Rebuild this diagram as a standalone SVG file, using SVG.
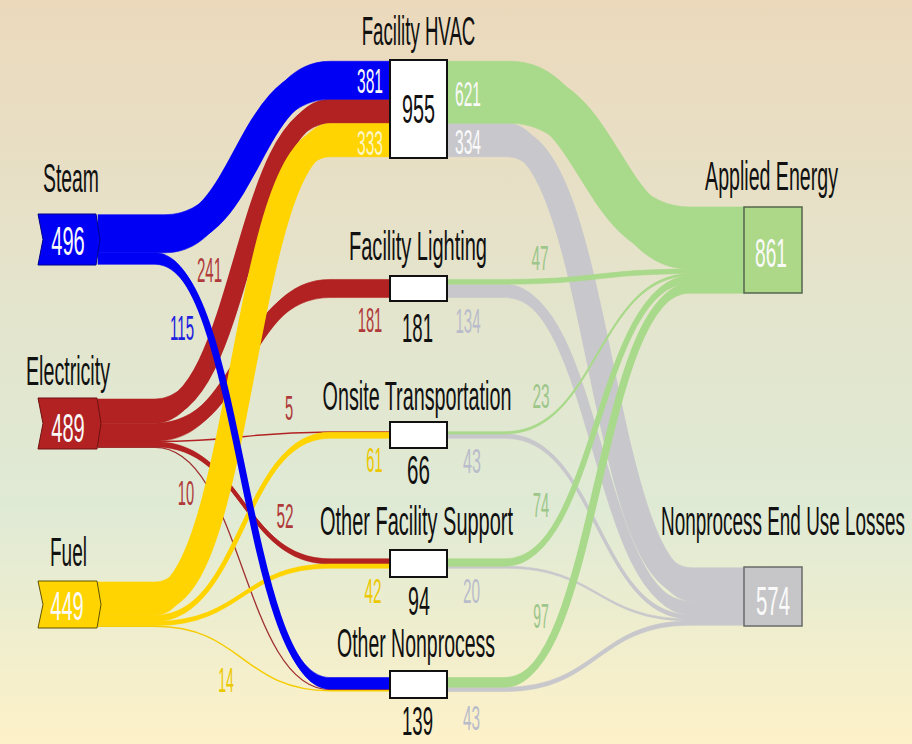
<svg xmlns="http://www.w3.org/2000/svg" width="912" height="744" viewBox="0 0 912 744">
<defs>
<linearGradient id="bg" x1="0" y1="0" x2="0" y2="1">
<stop offset="0" stop-color="#ecd9bc"/>
<stop offset="0.4" stop-color="#e4e4cc"/>
<stop offset="0.68" stop-color="#dfead5"/>
<stop offset="1" stop-color="#fdf1c8"/>
</linearGradient>
<style>
.a{stroke-width:0.6}
.b{fill:#0000f5;stroke:#0000f5}
.r{fill:#b22222;stroke:#b22222}
.y{fill:#ffd400;stroke:#ffd400}
.g{fill:#a9d98a;stroke:#a9d98a}
.s{fill:#c8c8cc;stroke:#c8c8cc}
.c{fill:none}
.ln{fill:none}
text{font-family:"Liberation Sans",Arial,sans-serif;text-anchor:middle}
.n{font-size:41px;fill:#111}
.w{fill:#fafafa}
.fl{font-size:35px}
.cr{fill:#b03a3a}
.cb{fill:#2020e0}
.cy{fill:#ecc800}
.cg{fill:#9dc68a}
.cs{fill:#b9bccb}
.box{fill:#ffffff;stroke:#111;stroke-width:2}
</style>
</defs>
<rect width="912" height="744" fill="url(#bg)"/>
<g id="connectors">
<path class="a r" d="M98,399.05 H155 C242.5,399.05 242.5,99.35 330,99.35 H391 V123.45 H330 C242.5,123.45 242.5,423.15 155,423.15 H98 Z"/>
<path class="r c" stroke-width="18.8" d="M98,411.1 H155 C242.5,411.1 242.5,111.4 330,111.4 H391"/>
<path class="a r" d="M98,423.15 H155 C242.5,423.15 242.5,279.45 330,279.45 H391 V297.55 H330 C242.5,297.55 242.5,441.25 155,441.25 H98 Z"/>
<path class="r c" stroke-width="14.1" d="M98,432.2 H155 C242.5,432.2 242.5,288.5 330,288.5 H391"/>
<path class="ln" stroke="#b22222" stroke-width="1.4" d="M98,441.5 H155 C242.5,441.5 242.5,431.95 330,431.95 H391"/>
<path class="a r" d="M98,441.75 H155 C242.5,441.75 242.5,558.8 330,558.8 H391 V564 H330 C242.5,564 242.5,446.95 155,446.95 H98 Z"/>
<path class="r c" stroke-width="4.1" d="M98,444.35 H155 C242.5,444.35 242.5,561.4 330,561.4 H391"/>
<path class="ln" stroke="#a03030" stroke-width="1.3" d="M98,447.45 H155 C242.5,447.45 242.5,689.55 330,689.55 H391"/>
<path class="a y" d="M98,582 H155 C242.5,582 242.5,123.45 330,123.45 H391 V156.75 H330 C242.5,156.75 242.5,615.3 155,615.3 H98 Z"/>
<path class="y c" stroke-width="26" d="M98,598.65 H155 C242.5,598.65 242.5,140.1 330,140.1 H391"/>
<path class="a y" d="M98,615.3 H155 C242.5,615.3 242.5,432.2 330,432.2 H391 V438.3 H330 C242.5,438.3 242.5,621.4 155,621.4 H98 Z"/>
<path class="y c" stroke-width="4.8" d="M98,618.35 H155 C242.5,618.35 242.5,435.25 330,435.25 H391"/>
<path class="a y" d="M98,621.4 H155 C242.5,621.4 242.5,564 330,564 H391 V568.2 H330 C242.5,568.2 242.5,625.6 155,625.6 H98 Z"/>
<path class="y c" stroke-width="3.3" d="M98,623.5 H155 C242.5,623.5 242.5,566.1 330,566.1 H391"/>
<path class="ln" stroke="#f5cc00" stroke-width="1.5" d="M98,626.3 H155 C242.5,626.3 242.5,690.75 330,690.75 H391"/>
<path class="a b" d="M98,214.7 H165 C247,214.7 247,61.25 330,61.25 H391 V99.35 H330 C247,99.35 247,252.8 165,252.8 H98 Z"/>
<path class="b c" stroke-width="29.7" d="M98,233.75 H165 C247,233.75 247,80.3 330,80.3 H391"/>
<path class="a b" d="M98,252.8 H155 C242.5,252.8 242.5,677.55 330,677.55 H391 V689.05 H330 C242.5,689.05 242.5,264.3 155,264.3 H98 Z"/>
<path class="b c" stroke-width="7" d="M98,258.55 H155 C242.5,258.55 242.5,683.3 330,683.3 H391"/>
<path class="a s" d="M446,123.35 H507 C600,123.35 600,567.8 692,567.8 H745 V601.2 H692 C600,601.2 600,156.75 507,156.75 H446 Z"/>
<path class="s c" stroke-width="26" d="M446,140.05 H507 C600,140.05 600,584.5 692,584.5 H745"/>
<path class="a s" d="M446,284.15 H505 C597.5,284.15 597.5,601.2 690,601.2 H745 V614.6 H690 C597.5,614.6 597.5,297.55 505,297.55 H446 Z"/>
<path class="s c" stroke-width="10.5" d="M446,290.85 H505 C597.5,290.85 597.5,607.9 690,607.9 H745"/>
<path class="a s" d="M446,434 H505 C597.5,434 597.5,614.6 690,614.6 H745 V618.9 H690 C597.5,618.9 597.5,438.3 505,438.3 H446 Z"/>
<path class="s c" stroke-width="3.4" d="M446,436.15 H505 C597.5,436.15 597.5,616.75 690,616.75 H745"/>
<path class="a s" d="M446,566.2 H505 C597.5,566.2 597.5,618.9 690,618.9 H745 V620.9 H690 C597.5,620.9 597.5,568.2 505,568.2 H446 Z"/>
<path class="a s" d="M446,687.2 H505 C597.5,687.2 597.5,620.9 690,620.9 H745 V625.2 H690 C597.5,625.2 597.5,691.5 505,691.5 H446 Z"/>
<path class="s c" stroke-width="3.4" d="M446,689.35 H505 C597.5,689.35 597.5,623.05 690,623.05 H745"/>
<path class="a g" d="M446,61.25 H510 C600,61.25 600,207 690,207 H745 V269.1 H690 C600,269.1 600,123.35 510,123.35 H446 Z"/>
<path class="g c" stroke-width="48" d="M446,92.3 H510 C600,92.3 600,238.05 690,238.05 H745"/>
<path class="a g" d="M446,279.45 H505 C597.5,279.45 597.5,269.1 690,269.1 H745 V273.8 H690 C597.5,273.8 597.5,284.15 505,284.15 H446 Z"/>
<path class="a g" d="M446,431.7 H505 C597.5,431.7 597.5,273.8 690,273.8 H745 V276.1 H690 C597.5,276.1 597.5,434 505,434 H446 Z"/>
<path class="g c" stroke-width="1.8" d="M446,432.85 H505 C597.5,432.85 597.5,274.95 690,274.95 H745"/>
<path class="a g" d="M446,558.8 H505 C597.5,558.8 597.5,276.1 690,276.1 H745 V283.5 H690 C597.5,283.5 597.5,566.2 505,566.2 H446 Z"/>
<path class="g c" stroke-width="5.8" d="M446,562.5 H505 C597.5,562.5 597.5,279.8 690,279.8 H745"/>
<path class="a g" d="M446,677.5 H505 C597.5,677.5 597.5,283.5 690,283.5 H745 V293.2 H690 C597.5,293.2 597.5,687.2 505,687.2 H446 Z"/>
<path class="g c" stroke-width="7.6" d="M446,682.35 H505 C597.5,682.35 597.5,288.35 690,288.35 H745"/>
</g>
<g id="flow-labels">
<text class="fl w" transform="translate(370,93) scale(0.445,1)">381</text>
<text class="fl" fill="#fdf6c4" transform="translate(370,155) scale(0.445,1)">333</text>
<text class="fl w" transform="translate(468,106) scale(0.445,1)">621</text>
<text class="fl w" transform="translate(468,154) scale(0.445,1)">334</text>
<text class="fl cr" transform="translate(209.5,282) scale(0.43,1)">241</text>
<text class="fl cb" transform="translate(182,340) scale(0.43,1)">115</text>
<text class="fl cr" transform="translate(370,332) scale(0.42,1)">181</text>
<text class="fl cr" transform="translate(289,420) scale(0.42,1)">5</text>
<text class="fl cy" transform="translate(374.5,472) scale(0.42,1)">61</text>
<text class="fl cr" transform="translate(186,505) scale(0.42,1)">10</text>
<text class="fl cr" transform="translate(285,528) scale(0.44,1)">52</text>
<text class="fl cy" transform="translate(373,603) scale(0.44,1)">42</text>
<text class="fl cy" transform="translate(226,692) scale(0.4,1)">14</text>
<text class="fl cg" transform="translate(540,270) scale(0.44,1)">47</text>
<text class="fl cs" transform="translate(468,333) scale(0.43,1)">134</text>
<text class="fl cg" transform="translate(541,408) scale(0.44,1)">23</text>
<text class="fl cs" transform="translate(472,473) scale(0.46,1)">43</text>
<text class="fl cg" transform="translate(541,517) scale(0.42,1)">74</text>
<text class="fl cs" transform="translate(471.5,603) scale(0.44,1)">20</text>
<text class="fl cg" transform="translate(541,628) scale(0.4,1)">97</text>
<text class="fl cs" transform="translate(471.5,730) scale(0.44,1)">43</text>
</g>
<g id="steam">
<polygon points="38,214 96,214 100,239.5 96,265 38,265 43,239.5" fill="#0000f5" stroke="#00008a" stroke-width="1"/>
<text class="n" transform="translate(71,192) scale(0.473,1)">Steam</text>
<text class="n w" font-size="39" transform="translate(68,255) scale(0.49,1)">496</text>
</g>
<g id="electricity">
<polygon points="38,398 97,398 101,423.5 97,449 38,449 43,423.5" fill="#b22222" stroke="#6e1010" stroke-width="1"/>
<text class="n" transform="translate(68,385) scale(0.479,1)">Electricity</text>
<text class="n w" font-size="39" transform="translate(68,442) scale(0.49,1)">489</text>
</g>
<g id="fuel">
<polygon points="38,581 97,581 101,604.5 97,628 38,628 43,604.5" fill="#ffd400" stroke="#5e5200" stroke-width="1"/>
<text class="n" transform="translate(68.5,566) scale(0.464,1)">Fuel</text>
<text class="n w" font-size="39" transform="translate(67,620) scale(0.49,1)">449</text>
</g>
<g id="facility-hvac">
<rect class="box" x="390" y="60" width="57" height="98"/>
<text class="n" transform="translate(418.5,45) scale(0.455,1)">Facility HVAC</text>
<text class="n" transform="translate(418.5,123) scale(0.482,1)">955</text>
</g>
<g id="facility-lighting">
<rect class="box" x="390" y="276" width="57" height="25"/>
<text class="n" transform="translate(418,260) scale(0.4885,1)">Facility Lighting</text>
<text class="n" transform="translate(417.5,342) scale(0.453,1)">181</text>
</g>
<g id="onsite-transportation">
<rect class="box" x="390" y="422" width="57" height="26"/>
<text class="n" transform="translate(417,410) scale(0.482,1)">Onsite Transportation</text>
<text class="n" transform="translate(418.5,484) scale(0.5,1)">66</text>
</g>
<g id="other-facility-support">
<rect class="box" x="390" y="550" width="57" height="27"/>
<text class="n" transform="translate(416.5,535) scale(0.487,1)">Other Facility Support</text>
<text class="n" transform="translate(419,615) scale(0.48,1)">94</text>
</g>
<g id="other-nonprocess">
<rect class="box" x="390" y="671" width="57" height="27"/>
<text class="n" transform="translate(416,657) scale(0.475,1)">Other Nonprocess</text>
<text class="n" transform="translate(417.5,735) scale(0.453,1)">139</text>
</g>
<g id="applied-energy">
<rect x="744" y="207" width="58" height="86" fill="#acd888" stroke="#55654c" stroke-width="1.5"/>
<text class="n" transform="translate(771.5,190) scale(0.478,1)">Applied Energy</text>
<text class="n w" transform="translate(771,267) scale(0.468,1)">861</text>
</g>
<g id="nonprocess-end-use-losses">
<rect x="744" y="567" width="58" height="59" fill="#c6c6c8" stroke="#6a6a6a" stroke-width="1.5"/>
<text class="n" transform="translate(783,535) scale(0.4615,1)">Nonprocess End Use Losses</text>
<text class="n w" transform="translate(773,615) scale(0.497,1)">574</text>
</g>
</svg>
